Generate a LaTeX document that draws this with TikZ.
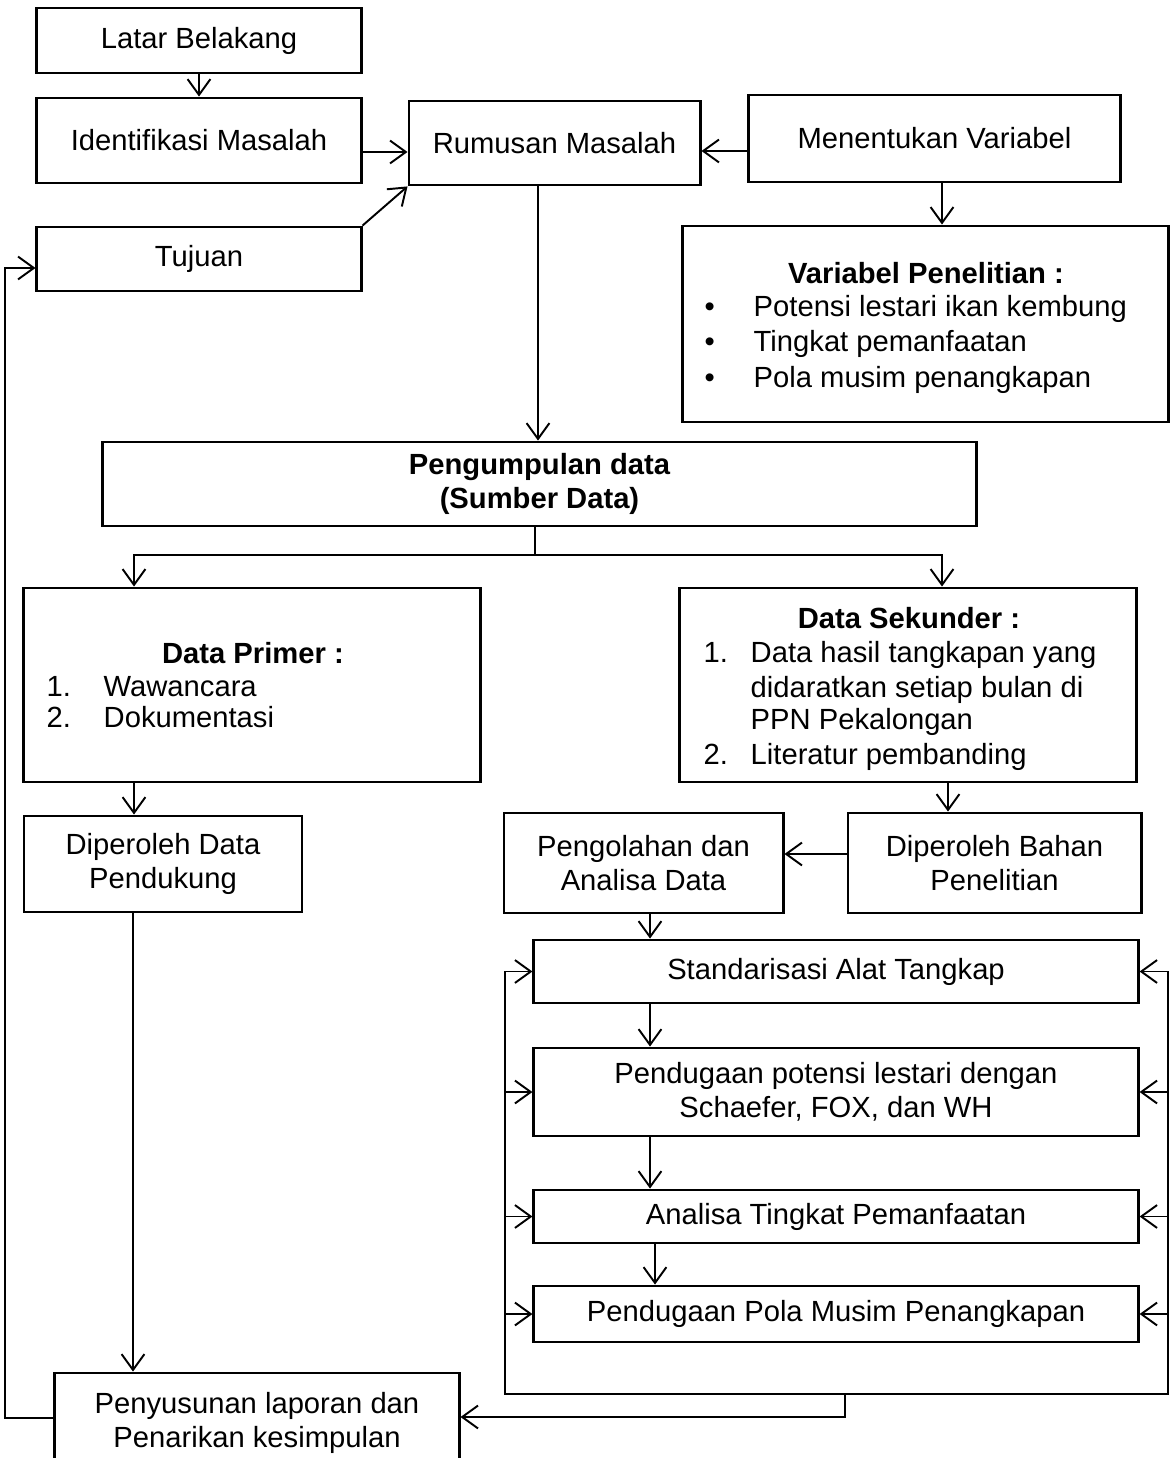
\documentclass[tikz,border=0pt]{standalone}
\usepackage{fontspec}
\setmainfont{Liberation Sans}
\usetikzlibrary{positioning,arrows.meta}

\begin{document}
\begin{tikzpicture}[
  x=0.01cm, y=-0.01cm,
  every node/.style={font=\fontsize{8.3}{9.7}\selectfont},
  kotak/.style={draw,line width=0.8pt,inner sep=0pt,align=center},
  judul/.style={font=\fontsize{8.3}{9.7}\selectfont\bfseries,align=center},
  butir/.style={anchor=west,inner sep=0pt,text height=0.72em,text depth=0.2em},
  garis/.style={line width=0.55pt},
  panah/.style={garis,-{Straight Barb[length=4.5pt,width=6.5pt]}}
]

\useasboundingbox (0,0) rectangle (1173,1458);

% ==================================================
% bagian atas
% ==================================================
\node[kotak,minimum width=3.24cm,minimum height=0.65cm]
  (latar) at (199,40.5) {Latar Belakang};
\node[kotak,minimum width=3.24cm,minimum height=0.85cm]
  (ident) at (199,140.5) {Identifikasi Masalah};
\node[kotak,minimum width=3.24cm,minimum height=0.64cm]
  (tujuan) at (199,259) {Tujuan};
\node[kotak,minimum width=2.91cm,minimum height=0.84cm]
  (rumusan) at (554.5,143) {Rumusan Masalah};
\node[kotak,minimum width=3.71cm,minimum height=0.87cm]
  (menentukan) at (934.5,138.5) {Menentukan Variabel};

% variabel penelitian
\node[kotak,minimum width=4.85cm,minimum height=1.96cm]
  (variabel) at (925.5,324) {};
\node[judul] (varjudul) at (926,273) {Variabel Penelitian :};
\foreach \yy/\t [count=\i] in {307/Potensi lestari ikan kembung,
    342/Tingkat pemanfaatan, 378/Pola musim penangkapan}{
  \node[butir] (vb\i) at (704,\yy) {\textbullet};
  \node[butir] (vt\i) at (753,\yy) {\t};
}

% ==================================================
% pengumpulan data
% ==================================================
\node[kotak,judul,minimum width=8.73cm,minimum height=0.84cm]
  (kumpul) at (539.5,484) {Pengumpulan data\\(Sumber Data)};

% data primer
\node[kotak,minimum width=4.56cm,minimum height=1.94cm]
  (primer) at (252,685) {};
\node[judul] (prjudul) at (253,653) {Data Primer :};
\node[butir] (pr1) at (46,687) {1.};
\node[butir] (prt1) at (103,687) {Wawancara};
\node[butir] (pr2) at (46,718) {2.};
\node[butir] (prt2) at (103,718) {Dokumentasi};

% data sekunder
\node[kotak,minimum width=4.56cm,minimum height=1.94cm]
  (sekunder) at (908,685) {};
\node[judul] (skjudul) at (909,618) {Data Sekunder :};
\node[butir] (sk1) at (703,653) {1.};
\node[butir] (skt1) at (750,653) {Data hasil tangkapan yang};
\node[butir] (skt1b) at (750,688) {didaratkan setiap bulan di};
\node[butir] (skt1c) at (750,720) {PPN Pekalongan};
\node[butir] (sk2) at (703,755) {2.};
\node[butir] (skt2) at (750,755) {Literatur pembanding};

\node[kotak,minimum width=2.78cm,minimum height=0.96cm]
  (pendukung) at (163,864) {Diperoleh Data\\Pendukung};
\node[kotak,minimum width=2.79cm,minimum height=1.00cm]
  (olah) at (643.5,863) {Pengolahan dan\\Analisa Data};
\node[kotak,minimum width=2.93cm,minimum height=1.00cm]
  (bahan) at (994.5,863) {Diperoleh Bahan\\Penelitian};

% ==================================================
% analisa
% ==================================================
\node[kotak,minimum width=6.04cm,minimum height=0.63cm]
  (standar) at (836,971.5) {Standarisasi Alat Tangkap};
\node[kotak,minimum width=6.04cm,minimum height=0.88cm]
  (potensi) at (836,1092)
  {Pendugaan potensi lestari dengan\\Schaefer, FOX, dan WH};
\node[kotak,minimum width=6.04cm,minimum height=0.53cm]
  (analisa) at (836,1216.5) {Analisa Tingkat Pemanfaatan};
\node[kotak,minimum width=6.04cm,minimum height=0.56cm]
  (pola) at (836,1314) {Pendugaan Pola Musim Penangkapan};

\node[kotak,minimum width=4.04cm,minimum height=0.99cm]
  (susun) at (257,1422.5) {Penyusunan laporan dan\\Penarikan kesimpulan};

% ==================================================
% panah
% ==================================================
\draw[panah] (latar) -- (ident);
\draw[panah] (ident.east |- 0,152) -- (rumusan.west |- 0,152);
\draw[panah] (tujuan.north east) -- (rumusan.south west);
\draw[panah] (menentukan.west |- 0,151) -- (rumusan.east |- 0,151);
\draw[panah] (menentukan.south -| 942,0) -- (variabel.north -| 942,0);
\draw[panah] (rumusan.south -| 538,0) -- (kumpul.north -| 538,0);

\draw[garis] (kumpul.south -| 535,0) -- ++(0,28) coordinate (cabang);
\draw[panah] (cabang) -| (primer.north -| 134,0);
\draw[panah] (cabang) -| (sekunder.north -| 942,0);

\draw[panah] (primer.south -| 134,0) -- (pendukung.north -| 134,0);
\draw[panah] (pendukung.south -| 133,0) -- (susun.north -| 133,0);
\draw[panah] (sekunder.south -| 948,0) -- (bahan.north -| 948,0);
\draw[panah] (bahan.west |- 0,854) -- (olah.east |- 0,854);

\draw[panah] (olah.south -| 650,0) -- (standar.north -| 650,0);
\draw[panah] (standar.south -| 650,0) -- (potensi.north -| 650,0);
\draw[panah] (potensi.south -| 650,0) -- (analisa.north -| 650,0);
\draw[panah] (analisa.south -| 655,0) -- (pola.north -| 655,0);

% kerangka umpan balik
\coordinate (kiri) at (505,971);
\coordinate (kanan) at (1168,971);
\coordinate (bawah) at (845,1394);
\draw[garis] (kiri) |- (kanan |- bawah) -- (kanan);
\foreach \k in {standar,potensi,analisa,pola}{
  \draw[panah] (\k.west -| kiri) -- (\k.west);
  \draw[panah] (\k.east -| kanan) -- (\k.east);
}
\draw[panah] (bawah) |- (susun.east |- 0,1417);

\coordinate (balik) at (5,268);
\draw[panah] (susun.west |- 0,1418) -| (balik) -- (tujuan.west |- balik);

\end{tikzpicture}
\end{document}
